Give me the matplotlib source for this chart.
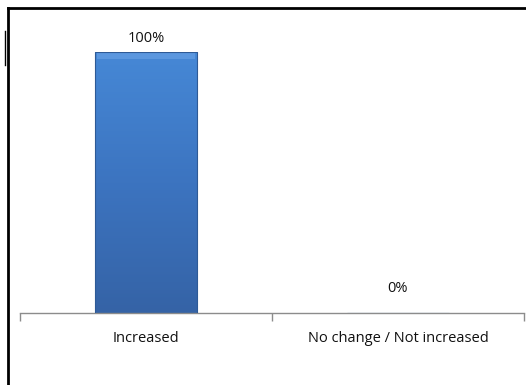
import numpy as np
import matplotlib
matplotlib.use("Agg")
import matplotlib.pyplot as plt
from matplotlib.colors import LinearSegmentedColormap
from matplotlib.lines import Line2D

categories = ["Increased", "No change / Not increased"]
values = [100, 0]
value_labels = ["100%", "0%"]

W, H = 526, 385
fig = plt.figure(figsize=(W / 100, H / 100), dpi=100)
fig.patch.set_facecolor("white")

# plot area in pixel coordinates
left, right, bottom_px, top_px = 20, 524, 313, 52
ax = fig.add_axes([left / W, 1 - bottom_px / H, (right - left) / W, (bottom_px - top_px) / H])
ax.set_xlim(-0.5, 1.5)
ax.set_ylim(0, 100)
for s in ["left", "right", "top"]:
    ax.spines[s].set_visible(False)
ax.spines["bottom"].set_color("#8c8c8c")
ax.spines["bottom"].set_linewidth(1.0)
ax.set_yticks([])
ax.set_xticks([-0.5, 0.5, 1.5], minor=False)
ax.set_xticklabels([])
ax.tick_params(axis="x", direction="out", length=6, color="#8c8c8c", width=1.0)
ax.set_xticks([0, 1], minor=True)
ax.set_xticklabels(categories, minor=True, fontsize=10.5, family="Open Sans", color="#111111")
ax.tick_params(axis="x", which="minor", length=0, pad=13)

cmap = LinearSegmentedColormap.from_list("barfill", ["#3563a6", "#3c74c0", "#4688d6"])
bar_width = 0.405
bars = ax.bar(range(len(values)), values, width=bar_width, color="none",
              edgecolor="#2e5a96", linewidth=0.8, zorder=3)
grad = np.linspace(0, 1, 256).reshape(-1, 1)
for rect, v in zip(bars, values):
    if v <= 0:
        continue
    x0 = rect.get_x()
    im = ax.imshow(grad, cmap=cmap, aspect="auto", origin="lower",
                   extent=[x0, x0 + rect.get_width(), 0, v], zorder=2)
    im.set_clip_path(rect)
    # bevel highlight along the top edge
    ax.fill_between([x0 + 0.008, x0 + rect.get_width() - 0.008], v - 2.5, v,
                    color="#6aa2e6", alpha=0.6, zorder=2.5, linewidth=0)

for i, (v, lab) in enumerate(zip(values, value_labels)):
    off = 2.2 if v > 0 else 6.5
    ax.text(i, v + off, lab, ha="center", va="bottom", fontsize=10.5,
            family="Open Sans", color="#111111", clip_on=False)

# outer frame lines
fig.add_artist(Line2D([8 / W, 1], [1 - 8 / H] * 2, color="black", lw=2.0, transform=fig.transFigure))
fig.add_artist(Line2D([8 / W, 8 / W], [1 - 8 / H, 0], color="black", lw=2.0, transform=fig.transFigure))
fig.add_artist(Line2D([5 / W, 5 / W], [1 - 31 / H, 1 - 65 / H], color="black", lw=1.0, transform=fig.transFigure))

fig.savefig("out.png", dpi=100, facecolor="white")
